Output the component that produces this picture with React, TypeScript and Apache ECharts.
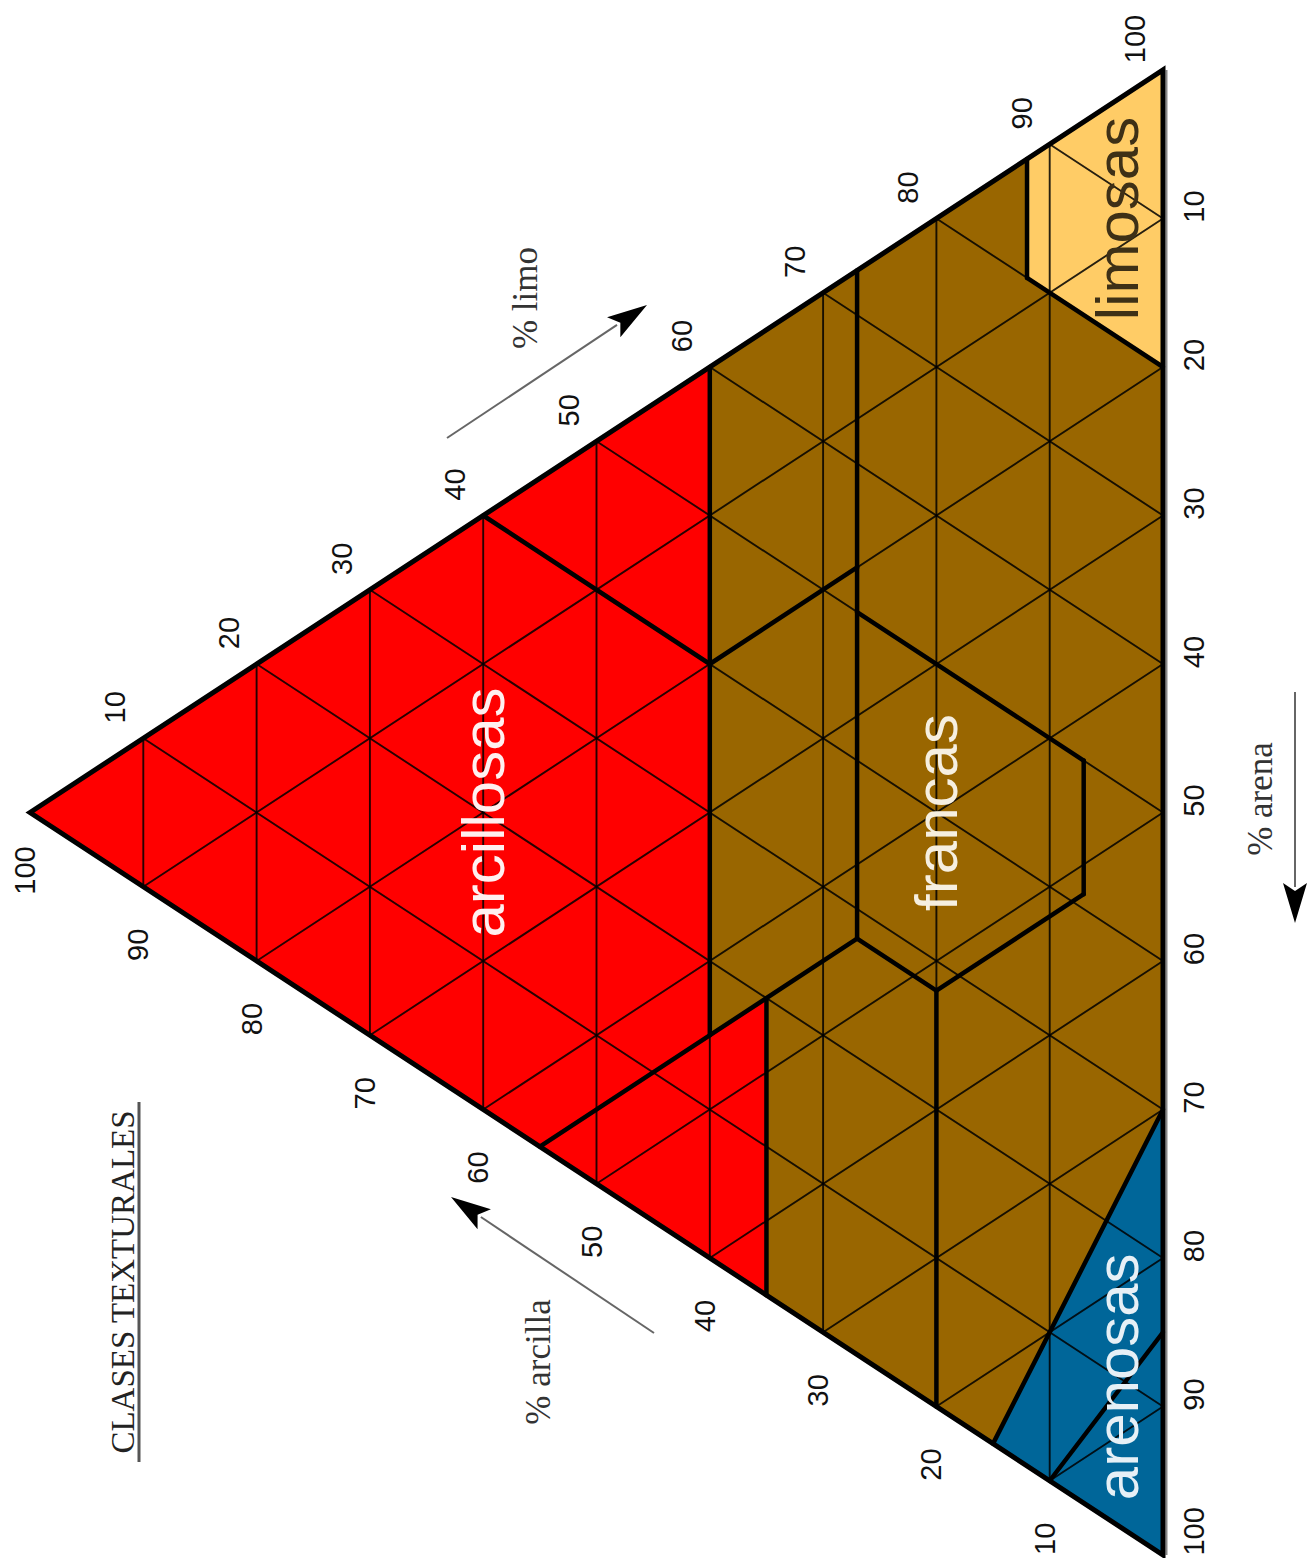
import React, { useEffect, useRef } from 'react';
import * as echarts from 'echarts';

// Ternary points are written as [clay %, silt %, sand %]
const TICK_VALUES = [10, 20, 30, 40, 50, 60, 70, 80, 90, 100];
const GRID_STEPS = [10, 20, 30, 40, 50, 60, 70, 80, 90];

const REGION_NAMES = ['arcillosas', 'francas', 'limosas', 'arenosas'];
const REGION_COLORS = ['#FF0000', '#996600', '#FFCC66', '#006699'];
const REGION_TEXT_COLORS = ['#fff0f0', '#f6efe0', '#3e3016', '#e6f0f6'];

const ARCILLOSAS_POLY = [[100, 0, 0], [40, 60, 0], [40, 15, 45], [35, 20, 45], [35, 0, 65]];
const FRANCAS_POLY = [
  [40, 60, 0], [12, 88, 0], [12, 80, 8], [0, 80, 20], [0, 30, 70],
  [15, 0, 85], [35, 0, 65], [35, 20, 45], [40, 15, 45],
];
const LIMOSAS_POLY = [[0, 100, 0], [12, 88, 0], [12, 80, 8], [0, 80, 20]];
const ARENOSAS_POLY = [[0, 30, 70], [0, 0, 100], [15, 0, 85]];
const REGION_POLYS = [ARCILLOSAS_POLY, FRANCAS_POLY, LIMOSAS_POLY, ARENOSAS_POLY];

// where each region name sits, in ternary coordinates
const REGION_LABEL_AT = [[60, 20, 20], [20, 40, 40], [4, 88, 8], [4, 10, 86]];

// class boundaries drawn heavy
const CLASS_BOUNDARIES = [
  [[60, 40, 0], [40, 40, 20]],
  [[40, 60, 0], [40, 15, 45]],
  [[55, 0, 45], [27, 28, 45]],
  [[35, 20, 45], [35, 0, 65]],
  [[40, 40, 20], [27, 53, 20]],
  [[27, 73, 0], [27, 28, 45]],
  [[27, 50, 23], [7, 50, 43]],
  [[7, 50, 43], [7, 41, 52]],
  [[7, 41, 52], [20, 28, 52]],
  [[27, 28, 45], [20, 28, 52]],
  [[20, 28, 52], [20, 0, 80]],
  [[12, 88, 0], [12, 80, 8]],
  [[12, 80, 8], [0, 80, 20]],
  [[0, 30, 70], [15, 0, 85]],
  [[0, 15, 85], [10, 0, 90]],
];

const OUTLINE = [[100, 0, 0], [0, 100, 0], [0, 0, 100]];

const toXY = (p: number[]) => [p[0], p[2] + p[0] / 2];

const SANS = "'Liberation Sans', Arial, sans-serif";
const SERIF = "'Liberation Serif', 'Times New Roman', serif";
const HEIGHT = 1558;

function arrow(x1: number, y1: number, x2: number, y2: number, headLen = 40, headW = 24) {
  const dx = x2 - x1, dy = y2 - y1;
  const L = Math.hypot(dx, dy);
  const ux = dx / L, uy = dy / L;
  const bx = x2 - ux * headLen, by = y2 - uy * headLen;
  const px = -uy, py = ux;
  return [
    { type: 'line', shape: { x1, y1, x2: bx + ux * 4, y2: by + uy * 4 }, style: { stroke: '#666', lineWidth: 2 } },
    {
      type: 'polygon',
      shape: { points: [[x2, y2], [bx + px * headW / 2, by + py * headW / 2], [bx + ux * 8, by + uy * 8], [bx - px * headW / 2, by - py * headW / 2]] },
      style: { fill: '#000' },
    },
  ];
}

export default function App() {
  const ref = useRef<HTMLDivElement>(null);
  useEffect(() => {
    if (!ref.current) return;
    const chart = echarts.init(ref.current, undefined, { renderer: 'svg' });

    const gridData: number[][] = [];
    GRID_STEPS.forEach((k) => {
      gridData.push([k, 100 - k, 0, k, 0, 100 - k]);
      gridData.push([100 - k, k, 0, 0, k, 100 - k]);
      gridData.push([100 - k, 0, k, 0, 100 - k, k]);
    });
    const boundaryData = CLASS_BOUNDARIES.map((s) => [...s[0], ...s[1]]);

    const tickData: number[][] = [];
    TICK_VALUES.forEach((v) => {
      tickData.push([0, v]);
      tickData.push([1, v]);
      tickData.push([2, v]);
    });
    const tickOffsets = [[-5, 58], [-28, -31], [31, -12]];

    const segRender = (width: number, color: string, opacity: number) => (params: any, api: any) => {
      const a = api.coord(toXY([api.value(0), api.value(1), api.value(2)]));
      const b = api.coord(toXY([api.value(3), api.value(4), api.value(5)]));
      return {
        type: 'line',
        shape: { x1: a[0], y1: a[1], x2: b[0], y2: b[1] },
        style: { stroke: color, lineWidth: width, opacity, lineCap: 'round' },
      };
    };

    const option: any = {
      animation: false,
      backgroundColor: '#ffffff',
      grid: { left: 30, right: 145, top: 70, bottom: 3, containLabel: false },
      xAxis: { type: 'value', min: 0, max: 100, inverse: true, show: false },
      yAxis: { type: 'value', min: 0, max: 100, inverse: true, show: false },
      series: [
        {
          type: 'custom',
          name: 'regiones',
          silent: true,
          clip: false,
          z: 1,
          data: REGION_NAMES.map((_, i) => [i, 0]),
          renderItem: (params: any, api: any) => {
            const pts = REGION_POLYS[params.dataIndex].map((p) => api.coord(toXY(p)));
            return { type: 'polygon', shape: { points: pts }, style: { fill: REGION_COLORS[params.dataIndex] } };
          },
        },
        {
          type: 'custom',
          name: 'rejilla',
          silent: true,
          clip: false,
          z: 2,
          data: gridData,
          renderItem: segRender(1.9, '#000000', 0.85),
        },
        {
          type: 'custom',
          name: 'limites',
          silent: true,
          clip: false,
          z: 3,
          data: boundaryData,
          renderItem: segRender(4.5, '#000000', 1),
        },
        {
          type: 'custom',
          name: 'contorno',
          silent: true,
          clip: false,
          z: 4,
          data: [[0, 0]],
          renderItem: (params: any, api: any) => {
            const pts = OUTLINE.map((p) => api.coord(toXY(p)));
            return {
              type: 'group',
              children: [
                { type: 'line', shape: { x1: pts[1][0] + 3.5, y1: pts[1][1], x2: pts[2][0] + 3.5, y2: pts[2][1] }, style: { stroke: '#888', lineWidth: 2 } },
                { type: 'polygon', shape: { points: pts }, style: { fill: 'none', stroke: '#000', lineWidth: 5, lineJoin: 'miter' } },
              ],
            };
          },
        },
        {
          type: 'custom',
          name: 'etiquetas',
          silent: true,
          clip: false,
          z: 5,
          data: tickData,
          renderItem: (params: any, api: any) => {
            const axis = api.value(0);
            const v = api.value(1);
            const p = axis === 0 ? [v, 0, 100 - v] : axis === 1 ? [100 - v, v, 0] : [0, 100 - v, v];
            const c = api.coord(toXY(p));
            const off = tickOffsets[axis];
            const label = String(v);
            const half = label.length * 8.2;
            const y = Math.min(c[1] + off[1], HEIGHT - half - 2);
            return {
              type: 'text',
              x: c[0] + off[0],
              y,
              rotation: Math.PI / 2,
              style: { text: label, fill: '#111', fontSize: 29, fontFamily: SANS, align: 'center', verticalAlign: 'middle' },
            };
          },
        },
        {
          type: 'custom',
          name: 'clases',
          silent: true,
          clip: false,
          z: 6,
          data: REGION_NAMES.map((_, i) => [i, 0]),
          renderItem: (params: any, api: any) => {
            const i = params.dataIndex;
            const c = api.coord(toXY(REGION_LABEL_AT[i]));
            return {
              type: 'text',
              x: c[0],
              y: c[1],
              rotation: Math.PI / 2,
              style: { text: REGION_NAMES[i], fill: REGION_TEXT_COLORS[i], fontSize: 60, fontFamily: SANS, align: 'center', verticalAlign: 'middle' },
            };
          },
        },
      ],
      graphic: [
        {
          type: 'text', x: 123, y: 1282, rotation: Math.PI / 2,
          style: { text: 'CLASES TEXTURALES', fill: '#222', fontSize: 33, fontFamily: SERIF, align: 'center', verticalAlign: 'middle' },
        },
        { type: 'line', shape: { x1: 139, y1: 1102, x2: 139, y2: 1462 }, style: { stroke: '#555', lineWidth: 3 } },
        {
          type: 'text', x: 525, y: 298, rotation: Math.PI / 2,
          style: { text: '% limo', fill: '#333', fontSize: 35, fontFamily: SERIF, align: 'center', verticalAlign: 'middle' },
        },
        ...arrow(447, 438, 647, 305),
        {
          type: 'text', x: 538, y: 1362, rotation: Math.PI / 2,
          style: { text: '% arcilla', fill: '#333', fontSize: 35, fontFamily: SERIF, align: 'center', verticalAlign: 'middle' },
        },
        ...arrow(654, 1333, 451, 1197),
        {
          type: 'text', x: 1260, y: 799, rotation: Math.PI / 2,
          style: { text: '% arena', fill: '#333', fontSize: 35, fontFamily: SERIF, align: 'center', verticalAlign: 'middle' },
        },
        ...arrow(1295, 692, 1295, 923),
      ],
    };
    chart.setOption(option);
    return () => chart.dispose();
  }, []);
  return <div ref={ref} style={{ position: 'fixed', left: 0, top: 0, width: 1308, height: 1558 }} />;
}
